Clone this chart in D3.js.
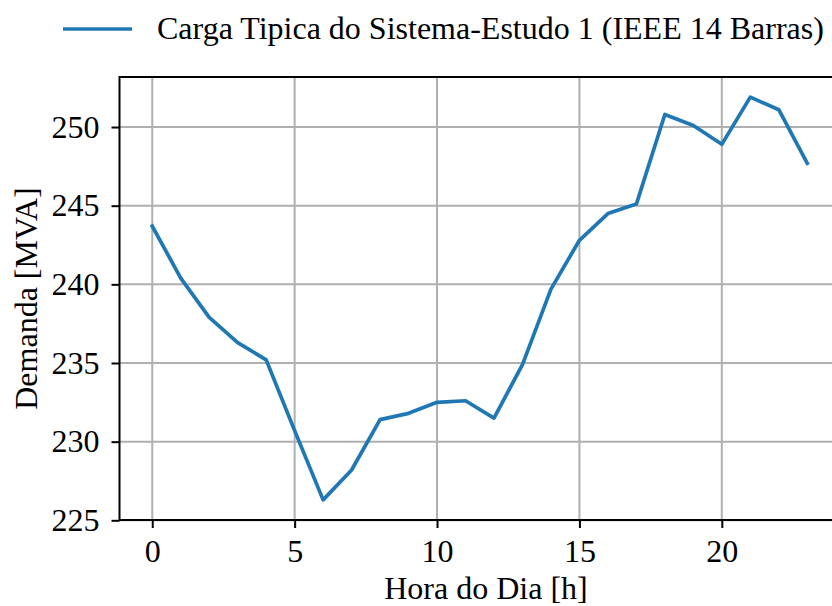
<!DOCTYPE html>
<html>
<head>
<meta charset="utf-8">
<script src="https://cdn.jsdelivr.net/npm/d3@7"></script>
<style>
  body { margin: 0; background: #fff; }
  svg { display: block; font-family: "Liberation Serif", "Times New Roman", serif; }
</style>
</head>
<body>
<script>
'use strict'
// hourly demand
const hours = d3.range(0, 24);
const demand = [243.7, 240.4, 237.9, 236.3, 235.2, 230.7, 226.3, 228.2, 231.4, 231.8, 232.5, 232.6,
                231.5, 234.9, 239.7, 242.8, 244.5, 245.1, 250.8, 250.1, 248.9, 251.9, 251.1, 247.7];
const xTicks = [0, 5, 10, 15, 20];
const yTicks = [225, 230, 235, 240, 245, 250];
const seriesName = "Carga Tipica do Sistema-Estudo 1 (IEEE 14 Barras)";

const w = 832;
const h = 606;
const padL = 119.5, padR = 840, padT = 77, padB = 520;
const fs = 32;
const serif = "'Liberation Serif', 'Times New Roman', serif";

const svg = d3.select("body")
	.append("svg")
	.attr("width", w)
	.attr("height", h);

// matplotlib-like 5% margins
const xPad = (d3.max(hours) - d3.min(hours)) * 0.05;
const yMin = d3.min(demand), yMax = d3.max(demand);
const yPad = (yMax - yMin) * 0.05;

const xScale = d3.scaleLinear()
	.domain([d3.min(hours) - xPad, d3.max(hours) + xPad])
	.range([padL, padR]);

const yScale = d3.scaleLinear()
	.domain([yMin - yPad, yMax + yPad])
	.range([padB, padT]);

// grid
svg.append("g")
	.selectAll("line")
	.data(xTicks)
	.enter()
	.append("line")
	.attr("x1", (d) => xScale(d))
	.attr("x2", (d) => xScale(d))
	.attr("y1", padT)
	.attr("y2", padB)
	.attr("stroke", "#b0b0b0")
	.attr("stroke-width", 2);

svg.append("g")
	.selectAll("line")
	.data(yTicks)
	.enter()
	.append("line")
	.attr("x1", padL)
	.attr("x2", padR)
	.attr("y1", (d) => yScale(d))
	.attr("y2", (d) => yScale(d))
	.attr("stroke", "#b0b0b0")
	.attr("stroke-width", 2);

// series
const line = d3.line()
	.x((d, i) => xScale(hours[i]))
	.y((d) => yScale(d));

svg.append("path")
	.datum(demand)
	.attr("d", line)
	.attr("fill", "none")
	.attr("stroke", "#1f77b4")
	.attr("stroke-width", 3.7)
	.attr("stroke-linejoin", "round")
	.attr("stroke-linecap", "square");

// axes
const xAxis = d3.axisBottom(xScale).tickValues(xTicks).tickSize(8).tickPadding(11).tickSizeOuter(0);
const yAxis = d3.axisLeft(yScale).tickValues(yTicks).tickSize(8).tickPadding(12).tickSizeOuter(0);

const gx = svg.append("g")
	.attr("transform", "translate(0," + padB + ")")
	.call(xAxis);

const gy = svg.append("g")
	.attr("transform", "translate(" + padL + ",0)")
	.call(yAxis);

[gx, gy].forEach((g) => {
	g.attr("font-family", serif).attr("font-size", fs);
	g.select(".domain").remove();
	g.selectAll(".tick line").attr("stroke", "#000").attr("stroke-width", 2);
	g.selectAll(".tick text").attr("fill", "#000");
});

// spines
svg.append("rect")
	.attr("x", padL)
	.attr("y", padT)
	.attr("width", padR - padL)
	.attr("height", padB - padT)
	.attr("fill", "none")
	.attr("stroke", "#000")
	.attr("stroke-width", 2);

// axis labels
svg.append("text")
	.attr("x", 486)
	.attr("y", 599)
	.attr("text-anchor", "middle")
	.attr("font-family", serif)
	.attr("font-size", fs)
	.text("Hora do Dia [h]");

svg.append("text")
	.attr("transform", "translate(37," + (padT + padB) / 2 + ") rotate(-90)")
	.attr("text-anchor", "middle")
	.attr("font-family", serif)
	.attr("font-size", fs)
	.text("Demanda [MVA]");

// legend
svg.append("line")
	.attr("x1", 63)
	.attr("x2", 132)
	.attr("y1", 29)
	.attr("y2", 29)
	.attr("stroke", "#1f77b4")
	.attr("stroke-width", 3.7);

svg.append("text")
	.attr("x", 157)
	.attr("y", 39)
	.attr("font-family", serif)
	.attr("font-size", fs)
	.text(seriesName);
</script>
</body>
</html>
